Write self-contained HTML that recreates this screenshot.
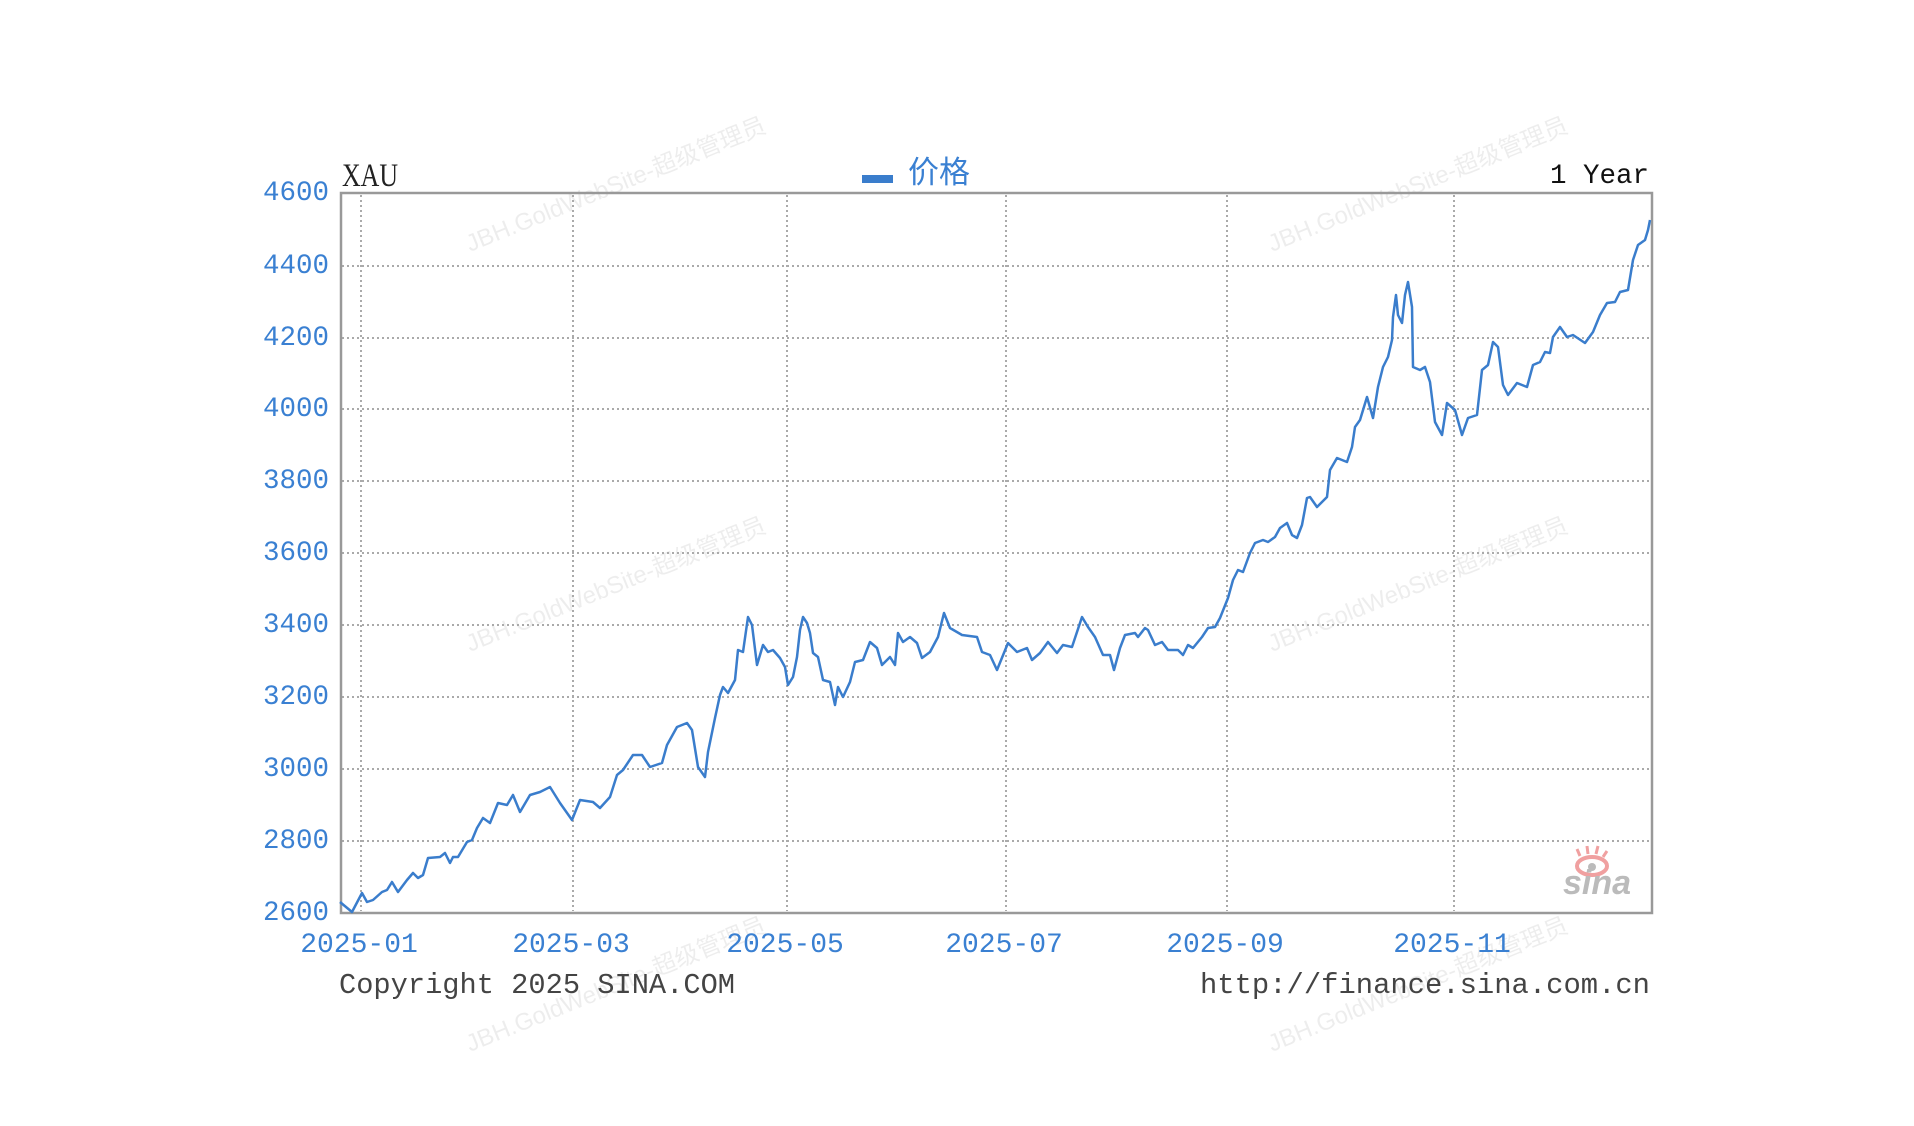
<!DOCTYPE html>
<html><head><meta charset="utf-8"><style>
html,body{margin:0;padding:0;background:#fff;}
svg{display:block;}
.m{font-family:"Liberation Mono",monospace;}
</style></head><body>
<svg width="1914" height="1126" viewBox="0 0 1914 1126" xmlns="http://www.w3.org/2000/svg">
<rect width="1914" height="1126" fill="#fff"/>
<!-- watermarks -->
<g fill="#000" fill-opacity="0.07" font-family="Liberation Sans,'Noto Sans CJK SC',sans-serif" font-size="24">
<text transform="translate(470,252) rotate(-22)">JBH.GoldWebSite-超级管理员</text>
<text transform="translate(1272,252) rotate(-22)">JBH.GoldWebSite-超级管理员</text>
<text transform="translate(470,652) rotate(-22)">JBH.GoldWebSite-超级管理员</text>
<text transform="translate(1272,652) rotate(-22)">JBH.GoldWebSite-超级管理员</text>
<text transform="translate(470,1052) rotate(-22)">JBH.GoldWebSite-超级管理员</text>
<text transform="translate(1272,1052) rotate(-22)">JBH.GoldWebSite-超级管理员</text>
</g>
<!-- grid -->
<g stroke="#aaa" stroke-width="2" stroke-dasharray="2,3">
<line x1="342" y1="266" x2="1650" y2="266"/>
<line x1="342" y1="338" x2="1650" y2="338"/>
<line x1="342" y1="409" x2="1650" y2="409"/>
<line x1="342" y1="481" x2="1650" y2="481"/>
<line x1="342" y1="553" x2="1650" y2="553"/>
<line x1="342" y1="625" x2="1650" y2="625"/>
<line x1="342" y1="697" x2="1650" y2="697"/>
<line x1="342" y1="769" x2="1650" y2="769"/>
<line x1="342" y1="841" x2="1650" y2="841"/>
<line x1="361" y1="195" x2="361" y2="911"/>
<line x1="573" y1="195" x2="573" y2="911"/>
<line x1="787" y1="195" x2="787" y2="911"/>
<line x1="1006" y1="195" x2="1006" y2="911"/>
<line x1="1227" y1="195" x2="1227" y2="911"/>
<line x1="1454" y1="195" x2="1454" y2="911"/>
</g>
<!-- sina logo -->
<ellipse cx="1592" cy="866" rx="15" ry="9" fill="none" stroke="#f0a0a0" stroke-width="4"/>
<circle cx="1592" cy="867" r="4" fill="#bbb"/>
<path d="M1580 856 l-3 -7 M1588 854 l-1 -8 M1596 854 l2 -8 M1603 857 l4 -6" stroke="#f0a0a0" stroke-width="3"/>
<text x="1563" y="894" font-family="Liberation Sans,sans-serif" font-size="34" font-weight="bold" font-style="italic" fill="#bbb">sina</text>
<!-- border -->
<rect x="341" y="193" width="1311" height="720" fill="none" stroke="#999" stroke-width="2.5"/>
<!-- series -->
<polyline fill="none" stroke="#3a7dcc" stroke-width="2.5" stroke-linejoin="round" points="340,902 352,912 362,893 367,902 373,900 382,892 387,890 392,882 398,892 407,880 413,873 418,878 423,875 428,858 440,857 445,853 450,863 453,857 458,857 467,842 472,840 477,828 483,818 490,823 498,803 507,805 513,795 520,812 530,795 540,792 550,787 560,803 572,820 580,800 593,802 600,808 610,797 617,775 623,770 633,755 642,755 650,767 662,763 667,745 677,727 687,723 692,730 698,767 705,777 708,752 715,718 720,695 723,687 728,693 735,680 738,650 743,652 748,617 752,625 757,665 763,645 768,652 773,650 780,658 785,667 788,685 793,677 797,657 800,630 803,617 807,623 810,633 813,653 818,657 823,680 830,682 835,705 838,687 843,697 850,682 855,662 863,660 870,642 877,648 882,665 890,657 895,665 898,633 903,642 910,637 917,643 922,658 930,652 938,637 944,613 950,628 962,635 977,637 982,652 990,655 997,670 1008,643 1017,652 1027,648 1032,660 1040,653 1048,642 1057,653 1063,645 1072,647 1082,617 1088,627 1095,637 1103,655 1110,655 1114,670 1120,648 1125,635 1135,633 1138,637 1145,628 1148,630 1155,645 1162,642 1168,650 1178,650 1183,655 1188,645 1193,648 1202,637 1208,628 1215,627 1220,618 1228,598 1233,580 1238,570 1243,572 1250,553 1255,543 1263,540 1268,542 1275,537 1280,528 1287,523 1292,535 1297,538 1302,525 1307,498 1310,497 1317,507 1327,497 1330,470 1337,458 1347,462 1352,447 1355,427 1360,420 1367,397 1373,418 1378,387 1383,367 1388,357 1392,340 1393,317 1396,295 1398,315 1402,323 1405,295 1408,282 1412,307 1413,367 1420,370 1425,367 1430,382 1435,422 1442,435 1447,403 1455,410 1462,435 1468,418 1477,415 1482,370 1488,365 1493,342 1498,347 1503,385 1508,395 1517,383 1527,387 1533,365 1540,362 1545,352 1550,353 1553,337 1560,327 1567,337 1573,335 1585,343 1593,332 1600,315 1607,303 1615,302 1620,292 1628,290 1633,260 1638,245 1645,240 1648,230 1650,220"/>
<!-- y labels -->
<g class="m" font-size="27.5" fill="#3a80d2" text-anchor="end">
<text x="329" y="200">4600</text>
<text x="329" y="273">4400</text>
<text x="329" y="345">4200</text>
<text x="329" y="416">4000</text>
<text x="329" y="488">3800</text>
<text x="329" y="560">3600</text>
<text x="329" y="632">3400</text>
<text x="329" y="704">3200</text>
<text x="329" y="776">3000</text>
<text x="329" y="848">2800</text>
<text x="329" y="920">2600</text>
</g>
<!-- x labels -->
<g class="m" font-size="28" fill="#3a80d2" text-anchor="middle">
<text x="359" y="952">2025-01</text>
<text x="571" y="952">2025-03</text>
<text x="785" y="952">2025-05</text>
<text x="1004" y="952">2025-07</text>
<text x="1225" y="952">2025-09</text>
<text x="1452" y="952">2025-11</text>
</g>
<!-- header -->
<text x="342" y="186" font-family="Liberation Serif,serif" font-size="33" fill="#222" textLength="56" lengthAdjust="spacingAndGlyphs">XAU</text>
<rect x="862" y="175" width="31" height="8" fill="#3a7dcc"/>
<text x="908" y="183" font-family="Liberation Sans,'Noto Sans CJK SC',sans-serif" font-size="31" fill="#3a80d2">价格</text>
<text x="1649" y="183" class="m" font-size="27.5" fill="#111" text-anchor="end">1 Year</text>
<!-- footer -->
<text x="339" y="993" class="m" font-size="29" fill="#444" textLength="396" lengthAdjust="spacingAndGlyphs">Copyright 2025 SINA.COM</text>
<text x="1650" y="993" class="m" font-size="29" fill="#444" text-anchor="end" textLength="450" lengthAdjust="spacingAndGlyphs">http://finance.sina.com.cn</text>
</svg>
</body></html>
